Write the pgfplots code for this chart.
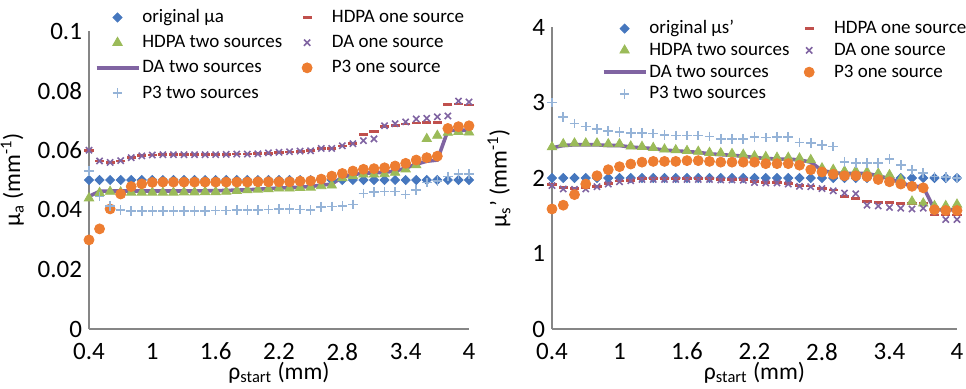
\documentclass[border=0pt]{standalone}
\usepackage{pgfplots}
\pgfplotsset{compat=1.18}
\usepackage{pgfplotstable}
\usepackage{fontspec}
\setmainfont{Carlito}
\definecolor{cblue}{HTML}{4677BE}
\definecolor{cred}{HTML}{C0504D}
\definecolor{cgreen}{HTML}{9BBB59}
\definecolor{cpurple}{HTML}{8064A2}
\definecolor{corange}{HTML}{ED7D31}
\definecolor{clblue}{HTML}{95B3D7}
\definecolor{caxis}{HTML}{868686}

\pgfplotstableread{
x o h1 h2 d1 d2 p1 p2
0.4 0.05 0.0600 0.0439 0.0600 0.0445 0.0299 0.0530
0.5 0.05 0.0564 0.0457 0.0564 0.0462 0.0336 0.0444
0.6 0.05 0.0558 0.0461 0.0559 0.0463 0.0403 0.0413
0.7 0.05 0.0564 0.0459 0.0565 0.0463 0.0453 0.0399
0.8 0.05 0.0576 0.0458 0.0575 0.0463 0.0478 0.0396
0.9 0.05 0.0581 0.0458 0.0581 0.0463 0.0487 0.0396
1.0 0.05 0.0584 0.0458 0.0584 0.0463 0.0492 0.0396
1.1 0.05 0.0585 0.0458 0.0585 0.0463 0.0493 0.0396
1.2 0.05 0.0585 0.0458 0.0585 0.0463 0.0493 0.0396
1.3 0.05 0.0585 0.0459 0.0585 0.0463 0.0493 0.0397
1.4 0.05 0.0585 0.0459 0.0585 0.0463 0.0493 0.0397
1.5 0.05 0.0585 0.0460 0.0585 0.0464 0.0493 0.0397
1.6 0.05 0.0585 0.0460 0.0585 0.0464 0.0493 0.0398
1.7 0.05 0.0586 0.0461 0.0586 0.0465 0.0493 0.0398
1.8 0.05 0.0587 0.0464 0.0587 0.0466 0.0493 0.0399
1.9 0.05 0.0587 0.0466 0.0587 0.0467 0.0493 0.0399
2.0 0.05 0.0588 0.0468 0.0588 0.0469 0.0494 0.0400
2.1 0.05 0.0590 0.0470 0.0591 0.0471 0.0494 0.0401
2.2 0.05 0.0592 0.0472 0.0593 0.0473 0.0494 0.0402
2.3 0.05 0.0594 0.0472 0.0595 0.0474 0.0494 0.0402
2.4 0.05 0.0597 0.0474 0.0597 0.0476 0.0496 0.0401
2.5 0.05 0.0598 0.0475 0.0598 0.0478 0.0497 0.0400
2.6 0.05 0.0605 0.0480 0.0606 0.0483 0.0503 0.0410
2.7 0.05 0.0606 0.0482 0.0606 0.0486 0.0513 0.0411
2.8 0.05 0.0614 0.0507 0.0615 0.0510 0.0522 0.0413
2.9 0.05 0.0622 0.0514 0.0622 0.0518 0.0530 0.0418
3.0 0.05 0.0654 0.0519 0.0632 0.0523 0.0536 0.0455
3.1 0.05 0.0664 0.0519 0.0638 0.0524 0.0538 0.0459
3.2 0.05 0.0679 0.0520 0.0682 0.0526 0.0541 0.0461
3.3 0.05 0.0684 0.0525 0.0689 0.0530 0.0547 0.0461
3.4 0.05 0.0688 0.0536 0.0695 0.0540 0.0556 0.0451
3.5 0.05 0.0691 0.0550 0.0705 0.0553 0.0567 0.0467
3.6 0.05 0.0693 0.0638 0.0707 0.0563 0.0575 0.0491
3.7 0.05 0.0692 0.0649 0.0712 0.0567 0.0580 0.0496
3.8 0.05 0.0753 0.0659 0.0715 0.0666 0.0673 0.0512
3.9 0.05 0.0755 0.0662 0.0765 0.0667 0.0679 0.0521
4.0 0.05 0.0752 0.0660 0.0762 0.0667 0.0682 0.0520
}\mua

\pgfplotstableread{
x o h1 h2 d1 d2 p1 p2
0.4 2.0 1.91 2.41 1.90 2.40 1.59 2.998
0.5 2.0 1.87 2.45 1.855 2.43 1.64 2.81
0.6 2.0 1.86 2.46 1.85 2.44 1.78 2.72
0.7 2.0 1.87 2.46 1.855 2.44 1.92 2.68
0.8 2.0 1.89 2.46 1.885 2.44 2.03 2.65
0.9 2.0 1.93 2.45 1.92 2.43 2.11 2.62
1.0 2.0 1.96 2.45 1.95 2.43 2.15 2.61
1.1 2.0 1.97 2.42 1.965 2.41 2.185 2.60
1.2 2.0 1.99 2.415 1.98 2.40 2.21 2.60
1.3 2.0 1.99 2.40 1.98 2.39 2.22 2.59
1.4 2.0 1.99 2.38 1.98 2.37 2.22 2.57
1.5 2.0 1.99 2.37 1.98 2.36 2.22 2.565
1.6 2.0 1.99 2.36 1.98 2.35 2.23 2.565
1.7 2.0 1.99 2.35 1.98 2.34 2.23 2.565
1.8 2.0 1.99 2.335 1.98 2.32 2.22 2.55
1.9 2.0 1.985 2.33 1.975 2.31 2.21 2.52
2.0 2.0 1.985 2.32 1.975 2.30 2.21 2.52
2.1 2.0 1.98 2.31 1.97 2.29 2.21 2.52
2.2 2.0 1.95 2.29 1.94 2.27 2.21 2.54
2.3 2.0 1.945 2.28 1.935 2.26 2.19 2.535
2.4 2.0 1.945 2.27 1.935 2.25 2.19 2.54
2.5 2.0 1.93 2.27 1.92 2.25 2.19 2.54
2.6 2.0 1.90 2.26 1.89 2.24 2.17 2.47
2.7 2.0 1.895 2.24 1.885 2.21 2.11 2.465
2.8 2.0 1.86 2.13 1.86 2.10 2.08 2.44
2.9 2.0 1.84 2.11 1.83 2.07 2.05 2.415
3.0 2.0 1.76 2.09 1.80 2.06 2.03 2.215
3.1 2.0 1.73 2.09 1.79 2.06 2.03 2.20
3.2 2.0 1.69 2.08 1.64 2.06 2.02 2.20
3.3 2.0 1.68 2.06 1.63 2.03 1.98 2.20
3.4 2.0 1.675 2.04 1.61 1.99 1.95 2.25
3.5 2.0 1.665 1.98 1.60 1.94 1.92 2.17
3.6 2.0 1.665 1.69 1.59 1.89 1.89 2.11
3.7 2.0 1.67 1.665 1.60 1.885 1.87 2.07
3.8 2.0 1.51 1.63 1.56 1.58 1.58 2.02
3.9 2.0 1.51 1.63 1.45 1.58 1.57 2.01
4.0 2.0 1.51 1.65 1.45 1.58 1.57 2.00
}\mus

\newcommand{\lt}[1]{\makebox[70pt][l]{#1}}
\newcommand{\rt}[1]{\makebox[67.5pt][l]{#1}}

\pgfplotsset{
  mystyle/.style={
    scale only axis,
    clip=false,
    axis lines*=left,
    axis line style={draw=caxis, line width=1pt},
    major tick length=0pt,
    xmin=0.4, xmax=4,
    xtick={0.4,1,1.6,2.2,2.8,3.4,4},
    xticklabels={0.4,1,1.6,2.2,2.8,3.4,4},
    ticklabel style={font=\fontsize{12.5}{14}\selectfont, text=black},
    label style={font=\fontsize{11.8}{14}\selectfont},
    xticklabel style={yshift=-3.5pt},
    xlabel style={yshift=6pt},
    legend columns=2,
    legend cell align=left,
    legend style={draw=none, fill=none, inner sep=0pt, anchor=north west,
      font=\fontsize{9.5}{11}\selectfont,
      nodes={inner xsep=1pt, inner ysep=0pt, text height=7pt, text depth=2pt}},
    xlabel={ρ\textsubscript{start} (mm)},
  },
  lgm/.style={legend image code/.code={\path[draw=none,fill=none] (-2.9pt,0) -- (19.9pt,0); \draw[##1] plot coordinates {(8.5pt,0pt)};}},
  s1/.style={only marks, mark=square*, mark options={rotate=45}, mark size=1.6pt, color=cblue, lgm},
  s2/.style={only marks, mark=-, mark size=2.3pt, line width=1.4pt, color=cred, lgm},
  s3/.style={only marks, mark=triangle*, mark size=2.7pt, color=cgreen, lgm},
  s4/.style={only marks, mark=x, mark size=2.2pt, line width=0.8pt, color=cpurple, lgm},
  s5/.style={no marks, line width=1.8pt, color=cpurple,
     legend image code/.code={\draw[##1] (-2pt,0) -- (19pt,0);}},
  s6/.style={only marks, mark=*, mark size=2.5pt, color=corange, lgm},
  s7/.style={only marks, mark=+, mark size=2.4pt, line width=0.8pt, color=clblue, lgm},
}

\begin{document}
\begin{tikzpicture}
\useasboundingbox (0,0) rectangle (483pt,194pt);
\begin{axis}[mystyle,
  at={(44.5pt,29.5pt)}, anchor=south west,
  width=190pt, height=149pt,
  ymin=0, ymax=0.1,
  ytick={0,0.02,0.04,0.06,0.08,0.1},
  yticklabels={0,0.02,0.04,0.06,0.08,0.1},
  ylabel={μ\textsubscript{a} (mm\textsuperscript{-1})},
  legend style={at={(0.014,1.077)}, row sep=3.6pt},
]
\addplot[s1] table[x=x,y=o]{\mua};
\addlegendentry{\lt{original μa}}
\addplot[s2] table[x=x,y=h1]{\mua};
\addlegendentry{\lt{HDPA one source}}
\addplot[s3] table[x=x,y=h2]{\mua};
\addlegendentry{\lt{HDPA two sources}}
\addplot[s4] table[x=x,y=d1]{\mua};
\addlegendentry{\lt{DA one source}}
\addplot[s5] table[x=x,y=d2]{\mua};
\addlegendentry{\lt{DA two sources}}
\addplot[s6] table[x=x,y=p1]{\mua};
\addlegendentry{\lt{P3 one source}}
\addplot[s7] table[x=x,y=p2]{\mua};
\addlegendentry{\lt{P3 two sources}}
\end{axis}

\begin{axis}[mystyle,
  at={(276pt,29.5pt)}, anchor=south west,
  width=202.5pt, height=151pt,
  ymin=0, ymax=4,
  ytick={0,1,2,3,4},
  yticklabels={0,1,2,3,4},
  ylabel={μ\textsubscript{s}' (mm\textsuperscript{-1})},
  ylabel style={yshift=4pt},
  legend style={at={(0.122,1.026)}, row sep=1.9pt},
]
\addplot[s1] table[x=x,y=o]{\mus};
\addlegendentry{\rt{original μs'}}
\addplot[s2] table[x=x,y=h1]{\mus};
\addlegendentry{\rt{HDPA one source}}
\addplot[s3] table[x=x,y=h2]{\mus};
\addlegendentry{\rt{HDPA two sources}}
\addplot[s4] table[x=x,y=d1]{\mus};
\addlegendentry{\rt{DA one source}}
\addplot[s5] table[x=x,y=d2]{\mus};
\addlegendentry{\rt{DA two sources}}
\addplot[s6] table[x=x,y=p1]{\mus};
\addlegendentry{\rt{P3 one source}}
\addplot[s7] table[x=x,y=p2]{\mus};
\addlegendentry{\rt{P3 two sources}}
\end{axis}
\end{tikzpicture}
\end{document}
